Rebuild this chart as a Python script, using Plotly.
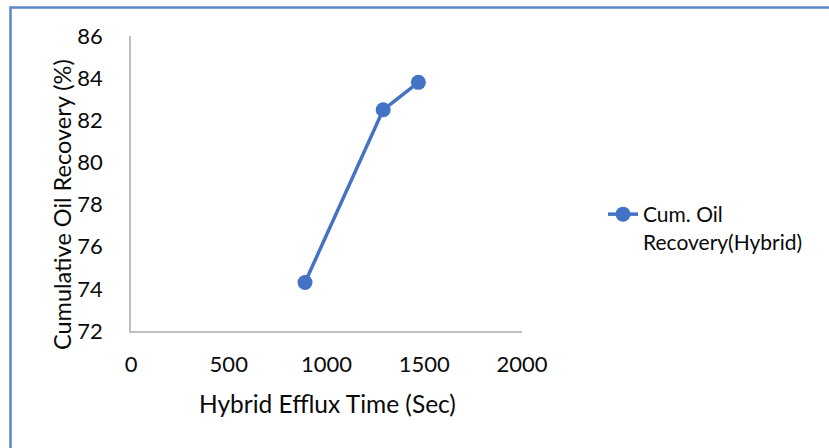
import plotly.graph_objects as go

# Hybrid efflux time (s) vs cumulative oil recovery (%)
efflux_time = [890, 1290, 1470]
oil_recovery = [74.3, 82.5, 83.8]
series_name = "Cum. Oil<br>Recovery(Hybrid)"

x_ticks = [0, 500, 1000, 1500, 2000]
y_ticks = [72, 74, 76, 78, 80, 82, 84, 86]

W, H = 829, 448
L, R, T, B = 131, 307, 36, 117
plot_w = W - L - R
plot_h = H - T - B

def px_x(px):
    return (px - L) / plot_w

def px_y(py):
    return (H - B - py) / plot_h

FONT = "Lato"
INK = "#0a0a0a"
BLUE = "#4472C4"

fig = go.Figure()
fig.add_trace(go.Scatter(
    x=efflux_time, y=oil_recovery, mode="lines+markers", name=series_name,
    line=dict(color=BLUE, width=3.5),
    marker=dict(color=BLUE, size=15),
))

fig.update_layout(
    width=W, height=H,
    margin=dict(l=L, r=R, t=T, b=B, autoexpand=False),
    paper_bgcolor="white", plot_bgcolor="white",
    font=dict(family=FONT, size=22, color=INK),
    showlegend=True,
    legend=dict(
        x=px_x(603), y=px_y(194), xanchor="left", yanchor="top",
        font=dict(family=FONT, size=21, color=INK),
        valign="top", bgcolor="rgba(0,0,0,0)",
    ),
    xaxis=dict(
        range=[0, 2000], tickvals=x_ticks, ticktext=[str(v) for v in x_ticks],
        showgrid=False, zeroline=False, showline=True,
        linecolor="#BFBFBF", linewidth=1.5, ticks="", ticklabelstandoff=13,
        tickfont=dict(family=FONT, size=22, color=INK),
    ),
    yaxis=dict(
        range=[72, 86], tickvals=y_ticks, ticktext=[str(v) for v in y_ticks],
        showgrid=False, zeroline=False, showline=True,
        linecolor="#BFBFBF", linewidth=1.5, ticks="", ticklabelstandoff=22,
        tickfont=dict(family=FONT, size=22, color=INK),
    ),
    annotations=[
        dict(text="Hybrid Efflux Time (Sec)", xref="paper", yref="paper",
             x=px_x(327), y=px_y(403), xanchor="center", yanchor="middle",
             showarrow=False, font=dict(family=FONT, size=24.5, color=INK)),
        dict(text="Cumulative Oil Recovery (%)", xref="paper", yref="paper",
             x=px_x(62), y=px_y(205), xanchor="center", yanchor="middle",
             textangle=-90, showarrow=False,
             font=dict(family=FONT, size=23.5, color=INK)),
    ],
    shapes=[
        dict(type="line", xref="paper", yref="paper",
             x0=px_x(10), x1=px_x(W + 5), y0=px_y(7.5), y1=px_y(7.5),
             line=dict(color="#5B86C8", width=2.5)),
        dict(type="line", xref="paper", yref="paper",
             x0=px_x(10.5), x1=px_x(10.5), y0=px_y(6.5), y1=px_y(H + 5),
             line=dict(color="#5B86C8", width=2.5)),
    ],
)

fig.write_html("out.html")
